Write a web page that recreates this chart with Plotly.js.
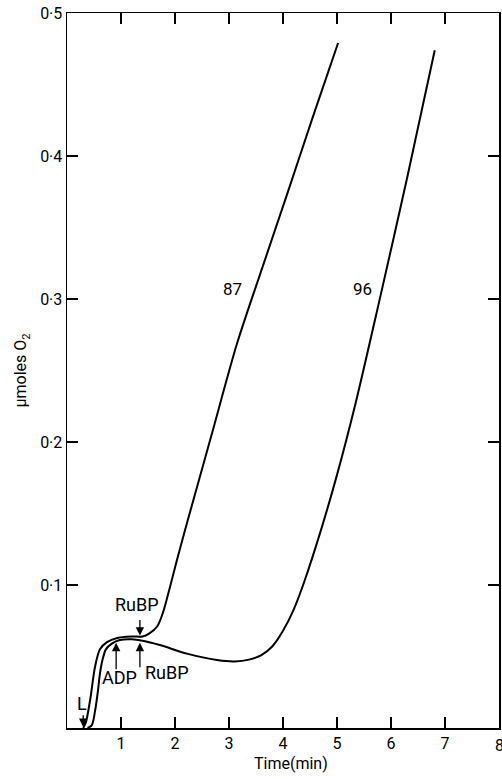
<!DOCTYPE html>
<html>
<head>
<meta charset="utf-8">
<script src="https://cdn.plot.ly/plotly-3.0.1.min.js"></script>
<style>html,body{margin:0;padding:0;background:#fff;}#chart{width:502px;height:779px;}</style>
</head>
<body>
<div id="chart"></div>
<script>
// Curve 87 (RuBP added early)
const time87 = [0.30, 0.35, 0.43, 0.52, 0.61, 0.74, 0.93, 1.20, 1.40, 1.52, 1.67, 1.78, 1.91, 2.04, 2.19, 2.67, 3.15, 3.60, 4.10, 4.55, 5.02];
const o2_87   = [0.000, 0.004, 0.020, 0.043, 0.055, 0.060, 0.063, 0.064, 0.064, 0.066, 0.071, 0.081, 0.099, 0.118, 0.139, 0.204, 0.269, 0.320, 0.376, 0.427, 0.479];
// Curve 96 (ADP, then RuBP)
const time96 = [0.38, 0.46, 0.52, 0.57, 0.61, 0.66, 0.72, 0.83, 0.98, 1.20, 1.40, 1.72, 2.22, 2.78, 3.10, 3.39, 3.60, 3.80, 4.00, 4.20, 4.40, 4.70, 5.00, 5.35, 5.78, 6.30, 6.81];
const o2_96   = [0.000, 0.002, 0.012, 0.025, 0.038, 0.048, 0.055, 0.059, 0.0615, 0.062, 0.061, 0.058, 0.052, 0.0475, 0.0465, 0.048, 0.051, 0.057, 0.068, 0.083, 0.103, 0.138, 0.177, 0.228, 0.298, 0.385, 0.474];

const xTicks = [1, 2, 3, 4, 5, 6, 7, 8];
const xTickText = ['1', '2', '3', '4', '5', '6', '7', '8'];
const yTicks = [0.1, 0.2, 0.3, 0.4, 0.5];
const yTickText = ['0·1', '0·2', '0·3', '0·4', '0·5'];

const curveLabels = ['87', '96'];
const curveLabelX = [3.07, 5.48];
const curveLabelY = [0.307, 0.307];

// Arrow markers: label, text position, arrow head, arrow tail
const markText = ['L', 'RuBP', 'ADP', 'RuBP'];
const markTextX = [0.28, 1.30, 0.97, 1.86];
const markTextY = [0.0170, 0.0865, 0.035, 0.0386];
const arrowHeadX = [0.30, 1.35, 0.91, 1.35];
const arrowHeadY = [0.0007, 0.0646, 0.0596, 0.0596];
const arrowTailY = [0.0100, 0.0765, 0.0400, 0.0415];

const FONT = 'Roboto, "Noto Sans", sans-serif';

const traces = [
  {x: time87, y: o2_87, mode: 'lines', line: {color: '#000', width: 2, shape: 'spline', smoothing: 0.8}, hoverinfo: 'skip', showlegend: false},
  {x: time96, y: o2_96, mode: 'lines', line: {color: '#000', width: 2, shape: 'spline', smoothing: 0.8}, hoverinfo: 'skip', showlegend: false}
];

const annotations = [];
curveLabels.forEach((t, i) => annotations.push({x: curveLabelX[i], y: curveLabelY[i], xref: 'x', yref: 'y', text: t, showarrow: false, font: {family: FONT, size: 17, color: '#000'}}));
markText.forEach((t, i) => {
  annotations.push({x: markTextX[i], y: markTextY[i], xref: 'x', yref: 'y', text: t, showarrow: false, font: {family: FONT, size: 18, color: '#000'}});
  annotations.push({x: arrowHeadX[i], y: arrowHeadY[i], xref: 'x', yref: 'y', ax: arrowHeadX[i], ay: arrowTailY[i], axref: 'x', ayref: 'y', text: '', showarrow: true, arrowhead: 2, arrowsize: 1.3, arrowwidth: 1.3, arrowcolor: '#000', standoff: 0, startstandoff: 0});
});
// last x tick label, drawn at the right edge where it is cut by the frame
annotations.push({x: xTicks[xTicks.length - 1], y: 0, xref: 'x', yref: 'paper', yanchor: 'top', yshift: -6, text: xTickText[xTickText.length - 1], showarrow: false, font: {family: FONT, size: 16, color: '#000'}});
// x-axis title
annotations.push({x: 0.519, y: 0, xref: 'paper', yref: 'paper', yanchor: 'middle', yshift: -35, text: 'Time(min)', showarrow: false, font: {family: FONT, size: 16, color: '#000'}});

const layout = {
  width: 502, height: 779,
  margin: {l: 67, r: 3, t: 13, b: 51},
  paper_bgcolor: '#fff', plot_bgcolor: '#fff',
  font: {family: FONT, color: '#000', size: 16},
  xaxis: {
    range: [0, 8], tickvals: xTicks, ticktext: xTickText,
    ticks: 'inside', ticklen: 11, tickwidth: 1.5, tickcolor: '#000',
    showline: true, linecolor: '#000', linewidth: 1.5, mirror: 'ticks',
    showgrid: false, zeroline: false,
    tickfont: {family: FONT, size: 16, color: '#000'}
  },
  yaxis: {
    range: [0, 0.5], tickvals: yTicks, ticktext: yTickText,
    ticks: 'inside', ticklen: 11, tickwidth: 1.5, tickcolor: '#000',
    showline: true, linecolor: '#000', linewidth: 1.5, mirror: 'ticks',
    showgrid: false, zeroline: false,
    tickfont: {family: FONT, size: 16, color: '#000'},
    title: {text: 'μmoles O<sub>2</sub>', font: {family: FONT, size: 16, color: '#000'}, standoff: 9}
  },
  annotations: annotations
};

Plotly.newPlot('chart', traces, layout, {staticPlot: true, displayModeBar: false});
</script>
</body>
</html>
